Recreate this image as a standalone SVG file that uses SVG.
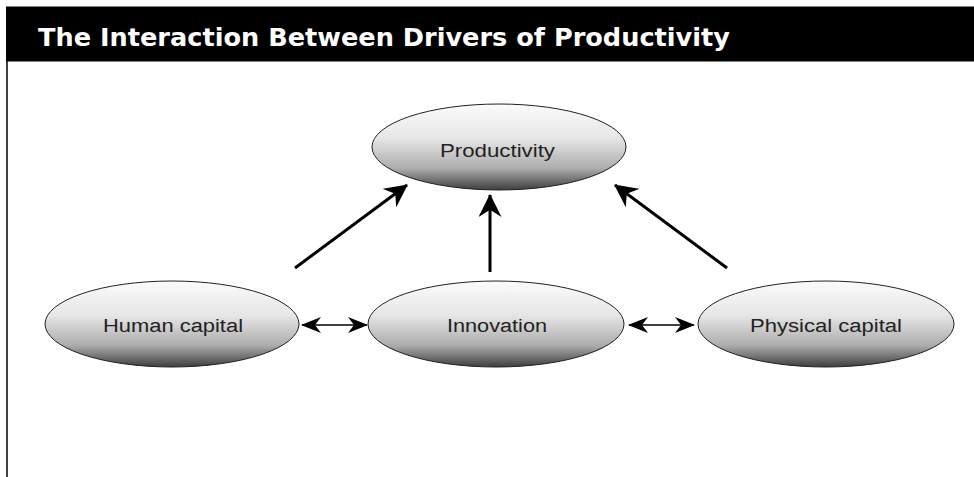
<svg xmlns="http://www.w3.org/2000/svg" width="974" height="477" viewBox="0 0 974 477">
<defs>
<linearGradient id="g" x1="0" y1="0" x2="0" y2="1">
<stop offset="0" stop-color="#fbfbfb"/>
<stop offset="0.4" stop-color="#e6e6e6"/>
<stop offset="0.75" stop-color="#acacac"/>
<stop offset="1" stop-color="#3e3e3e"/>
</linearGradient>
<marker id="big" viewBox="0 0 22 22" refX="21" refY="11" markerWidth="23" markerHeight="23" markerUnits="userSpaceOnUse" orient="auto">
<path d="M0,0 L22,11 L0,22 L7,11 z" fill="#000"/>
</marker>
<marker id="small" viewBox="0 0 20 16" refX="19" refY="8" markerWidth="20" markerHeight="16" markerUnits="userSpaceOnUse" orient="auto-start-reverse">
<path d="M0,0 L20,8 L0,16 L6,8 z" fill="#000"/>
</marker>
</defs>
<style>
.node ellipse{fill:url(#g);stroke:#222;stroke-width:1}
.node text{font-family:"Liberation Sans",Arial,sans-serif;font-size:18px;fill:#222}
.title{font-family:"DejaVu Sans Condensed","Liberation Sans",Arial,sans-serif;font-stretch:condensed;font-size:24px;font-weight:bold;fill:#fff}
.thick{stroke:#000;stroke-width:3;fill:none;marker-end:url(#big)}
.thin{stroke:#000;stroke-width:1.5;fill:none;marker-start:url(#small);marker-end:url(#small)}
</style>
<rect width="974" height="477" fill="#fff"/>
<rect x="6" y="6.5" width="968" height="55" fill="#000"/>
<line x1="7" y1="61" x2="7" y2="477" stroke="#000" stroke-width="1.5"/>
<text class="title" x="38" y="46" textLength="692" lengthAdjust="spacingAndGlyphs">The Interaction Between Drivers of Productivity</text>
<g id="productivity" class="node">
<ellipse cx="499" cy="147" rx="127" ry="43"/>
<text x="440" y="157" textLength="115" lengthAdjust="spacingAndGlyphs">Productivity</text>
</g>
<g id="human-capital" class="node">
<ellipse cx="172" cy="324" rx="127" ry="43"/>
<text x="103" y="332" textLength="140" lengthAdjust="spacingAndGlyphs">Human capital</text>
</g>
<g id="innovation" class="node">
<ellipse cx="496" cy="324" rx="128" ry="43"/>
<text x="447" y="332" textLength="100" lengthAdjust="spacingAndGlyphs">Innovation</text>
</g>
<g id="physical-capital" class="node">
<ellipse cx="826" cy="324" rx="128" ry="43"/>
<text x="750" y="332" textLength="152" lengthAdjust="spacingAndGlyphs">Physical capital</text>
</g>
<g id="connectors">
<line class="thick" x1="295" y1="268" x2="407" y2="185"/>
<line class="thick" x1="490" y1="272" x2="490" y2="195"/>
<line class="thick" x1="727" y1="268" x2="615" y2="185"/>
<line class="thin" x1="302" y1="325" x2="367" y2="325"/>
<line class="thin" x1="629" y1="325" x2="694" y2="325"/>
</g>
</svg>
